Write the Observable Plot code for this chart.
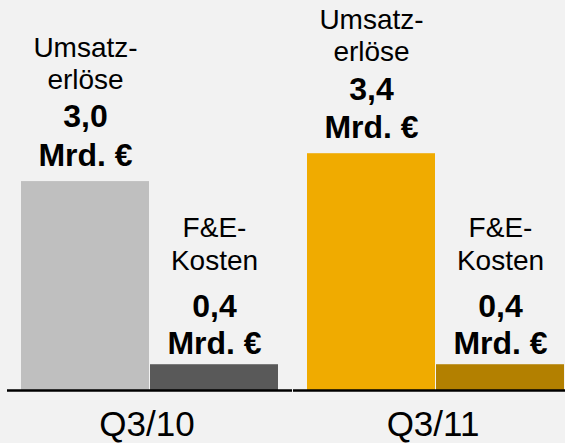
<!DOCTYPE html>
<html>
<head>
<meta charset="utf-8">
<script src="https://cdn.jsdelivr.net/npm/d3@7"></script>
<script src="https://cdn.jsdelivr.net/npm/@observablehq/plot@0.6"></script>
<style>
  html, body { margin: 0; padding: 0; background: #f2f2f2; }
  #chart { width: 565px; height: 443px; overflow: hidden; }
</style>
</head>
<body>
<div id="chart"></div>
<script>
const quarters = ["Q3/10", "Q3/11"];
const metrics = ["Umsatzerlöse", "F&E-Kosten"];
const metricTitles = ["Umsatz-\nerlöse", "F&E-\nKosten"];
const revenue = [3.0, 3.4];
const rdCost = [0.37, 0.37];
const revenueLabels = ["3,0", "3,4"];
const rdLabels = ["0,4", "0,4"];
const unit = "Mrd. €";
const colors = [["#bfbfbf", "#595959"], ["#f0ab00", "#b38000"]];

const rows = [];
quarters.forEach((q, i) => {
  rows.push({quarter: q, metric: metrics[0], title: metricTitles[0], value: revenue[i], label: `${revenueLabels[i]}\n${unit}`, color: colors[i][0]});
  rows.push({quarter: q, metric: metrics[1], title: metricTitles[1], value: rdCost[i], label: `${rdLabels[i]}\n${unit}`, color: colors[i][1]});
});
const revRows = rows.filter(d => d.metric === metrics[0]);
const rdRows = rows.filter(d => d.metric === metrics[1]);

const chart = Plot.plot({
  width: 565,
  height: 443,
  marginLeft: 20,
  marginRight: 0,
  marginTop: 0,
  marginBottom: 53,
  style: {background: "#f2f2f2", fontFamily: "'Liberation Sans', Arial, sans-serif", color: "#000"},
  fx: {domain: quarters, paddingInner: 0.1, paddingOuter: 0, axis: null},
  x: {domain: metrics, paddingInner: 0.01, paddingOuter: 0, axis: null},
  y: {domain: [0, 5.6], axis: null},
  color: {type: "identity"},
  marks: [
    Plot.barY(rows, {fx: "quarter", x: "metric", y: "value", fill: "color"}),
    Plot.ruleY([0], {stroke: "#000", strokeWidth: 2.5, insetLeft: -14, insetRight: -14}),
    Plot.text(revRows, {fx: "quarter", x: "metric", y: "value", text: "title", lineAnchor: "bottom", dy: -93, fontSize: 28, lineHeight: 1.14, fill: "#000"}),
    Plot.text(revRows, {fx: "quarter", x: "metric", y: "value", text: "label", lineAnchor: "bottom", dy: -16, fontSize: 32, fontWeight: "bold", lineHeight: 1.19, fill: "#000"}),
    Plot.text(rdRows, {fx: "quarter", x: "metric", y: "value", text: "title", lineAnchor: "bottom", dy: -95, fontSize: 28, lineHeight: 1.18, fill: "#000"}),
    Plot.text(rdRows, {fx: "quarter", x: "metric", y: "value", text: "label", lineAnchor: "bottom", dy: -11, fontSize: 32, fontWeight: "bold", lineHeight: 1.16, fill: "#000"}),
    Plot.text(quarters, {fx: d => d, text: d => d, frameAnchor: "bottom", lineAnchor: "bottom", dy: 45, dx: -3, fontSize: 35, fill: "#000"})
  ]
});
document.getElementById("chart").appendChild(chart);
</script>
</body>
</html>
